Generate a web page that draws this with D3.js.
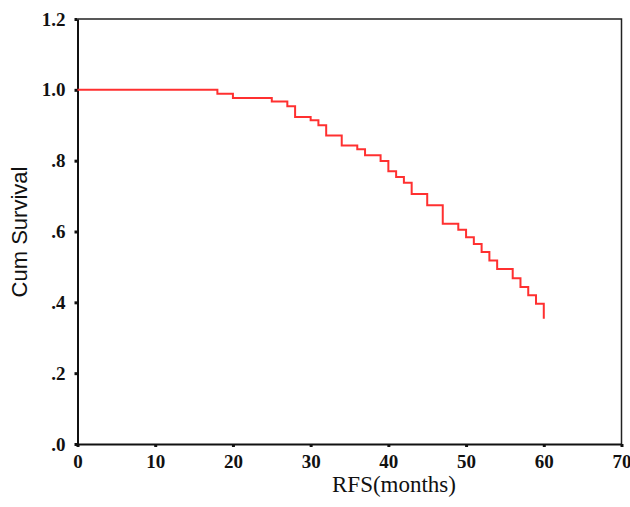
<!DOCTYPE html>
<html>
<head>
<meta charset="utf-8">
<script src="https://cdn.jsdelivr.net/npm/d3@7"></script>
<style>
  body { margin: 0; background: #fff; }
  svg { display: block; }
</style>
</head>
<body>
<svg id="chart" width="630" height="507"></svg>
<script>
// Kaplan-Meier step values
var months   = [0, 18, 20, 25, 27, 28, 30, 31, 32, 34, 36, 37, 39, 40, 41, 42, 43, 45, 47, 49, 50, 51, 52, 53, 54, 56, 57, 58, 59, 60];
var survival = [1.0, 0.989, 0.977, 0.967, 0.954, 0.923, 0.914, 0.900, 0.871, 0.843, 0.832, 0.815, 0.799, 0.770, 0.754, 0.738, 0.706, 0.674, 0.622, 0.605, 0.584, 0.565, 0.542, 0.518, 0.494, 0.468, 0.443, 0.420, 0.396, 0.354];
var xTicks = [0, 10, 20, 30, 40, 50, 60, 70];
var yTicks = [0, 0.2, 0.4, 0.6, 0.8, 1.0, 1.2];
var yTickLabels = [".0", ".2", ".4", ".6", ".8", "1.0", "1.2"];

var $svg = d3.select("#chart");
// plot box edges (note: "top" is taken by window.top)
var boxL = 77.5, boxR = 621.5, boxT = 19, boxB = 444;

var x = d3.scaleLinear().domain([0, 70]).range([boxL, boxR]);
var y = d3.scaleLinear().domain([0, 1.2]).range([boxB, boxT]);

// frame (top and right)
$svg.append("path")
    .attr("d", `M${boxL},${boxT}H${boxR}V${boxB}`)
    .attr("fill", "none")
    .attr("stroke", "#222")
    .attr("stroke-width", 1.5);

// x axis
var $xAxis = $svg.append("g")
    .attr("transform", `translate(0 ${boxB})`)
    .call(d3.axisBottom(x).tickValues(xTicks).tickSize(3).tickSizeOuter(0).tickPadding(8));

// y axis
var $yAxis = $svg.append("g")
    .attr("transform", `translate(${boxL} 0)`)
    .call(d3.axisLeft(y).tickValues(yTicks).tickSize(3).tickSizeOuter(0).tickPadding(9)
        .tickFormat((d, i) => yTickLabels[i]));

[$xAxis, $yAxis].forEach($a => {
    $a.select(".domain").attr("stroke", "#111").attr("stroke-width", 2);
    $a.selectAll(".tick line").attr("stroke", "#111").attr("stroke-width", 3);
    $a.selectAll(".tick text")
        .attr("fill", "#111")
        .style("font-family", "'Liberation Serif', 'Times New Roman', serif")
        .style("font-weight", "bold")
        .style("font-size", "19px");
});

// survival curve
var line = d3.line()
    .x(d => x(d[0]))
    .y(d => y(d[1]))
    .curve(d3.curveStepAfter);

$svg.append("path")
    .datum(months.map((m, i) => [m, survival[i]]))
    .attr("d", line)
    .attr("fill", "none")
    .attr("stroke", "#ff3030")
    .attr("stroke-width", 2);

// axis titles
$svg.append("text")
    .text("RFS(months)")
    .attr("x", 394)
    .attr("y", 492)
    .attr("text-anchor", "middle")
    .style("font-family", "'Liberation Serif', 'Times New Roman', serif")
    .style("font-size", "23px")
    .attr("fill", "#111");

$svg.append("text")
    .text("Cum Survival")
    .attr("transform", "translate(27 232) rotate(-90)")
    .attr("text-anchor", "middle")
    .style("font-family", "'Liberation Sans', Arial, sans-serif")
    .style("font-size", "22px")
    .attr("fill", "#111");
</script>
</body>
</html>
